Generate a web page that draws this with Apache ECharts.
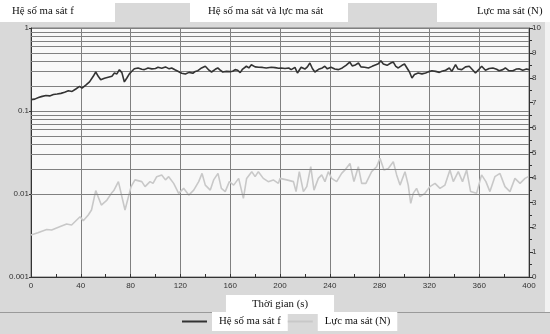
<!DOCTYPE html>
<html><head><meta charset="utf-8">
<script src="https://cdn.jsdelivr.net/npm/echarts@6/dist/echarts.min.js"></script>
<style>html,body{margin:0;padding:0;background:#fff}#c{width:550px;height:334px}</style>
</head><body><div id="c"></div>
<script>
const titleLeft = 'Hệ số ma sát f';
const titleCenter = 'Hệ số ma sát và lực ma sát';
const titleRight = 'Lực ma sát (N)';
const xAxisName = 'Thời gian (s)';
const seriesNames = ['Hệ số ma sát f', 'Lực ma sát (N)'];
const leftTickLabels = ['0.001', '0.01', '0.1', '1'];
const minorGrid = [0.2,0.3,0.4,0.5,0.6,0.7,0.8,0.9,0.02,0.03,0.04,0.05,0.06,0.07,0.08,0.09,0.002,0.003,0.004,0.005,0.006,0.007,0.008,0.009];

const timeF = [0,3,6,9,12,15,18,21,24,27,30,33,36,39,41,44,47,50,52,54,56,59,62,65,67,69,71,73,75,77,79,81,83,86,89,91,94,97,100,102,105,108,111,113,116,118,121,124,127,130,132,134,137,140,143,145,148,150,152,154,157,160,162,164,166,168,170,173,175,177,180,183,186,189,193,196,199,201,204,207,209,212,214,217,220,222,224,226,228,231,234,236,238,241,244,247,250,253,256,258,260,263,265,268,271,274,276,279,281,283,286,289,291,293,295,298,300,302,304,306,308,311,314,317,319,322,325,328,330,333,336,338,341,343,346,349,352,355,357,360,362,365,368,371,374,376,379,381,384,387,390,392,395,398,400];
const valuesF = [0.137,0.139,0.145,0.150,0.154,0.152,0.158,0.160,0.163,0.168,0.175,0.172,0.184,0.198,0.189,0.205,0.224,0.262,0.295,0.262,0.238,0.248,0.255,0.262,0.287,0.280,0.315,0.290,0.224,0.250,0.280,0.301,0.323,0.330,0.318,0.315,0.330,0.322,0.325,0.336,0.328,0.340,0.322,0.330,0.312,0.301,0.285,0.279,0.292,0.285,0.300,0.306,0.330,0.346,0.310,0.295,0.318,0.330,0.310,0.295,0.300,0.298,0.301,0.315,0.310,0.290,0.320,0.346,0.330,0.361,0.340,0.336,0.335,0.330,0.336,0.333,0.328,0.330,0.325,0.330,0.315,0.336,0.287,0.336,0.320,0.340,0.379,0.325,0.295,0.318,0.330,0.346,0.322,0.336,0.320,0.315,0.330,0.355,0.389,0.350,0.355,0.379,0.340,0.336,0.330,0.345,0.355,0.370,0.404,0.368,0.355,0.379,0.389,0.345,0.330,0.355,0.368,0.330,0.295,0.250,0.275,0.287,0.280,0.287,0.296,0.306,0.300,0.292,0.301,0.310,0.330,0.300,0.361,0.320,0.315,0.340,0.346,0.310,0.287,0.320,0.346,0.310,0.325,0.330,0.318,0.306,0.315,0.330,0.305,0.306,0.320,0.323,0.310,0.320,0.315];

const timeN = [0,5.5,12.6,16.6,22,28.6,32.6,39.4,42,46,48.6,52,56.5,61,64.6,66.5,70.2,75.5,80.4,83.5,89,91.6,95.6,98,101,105,108,110.6,114.6,118.6,122.6,126.7,130.7,134.7,137.4,140,144,146.7,150.2,152.9,156,159.3,162.8,166.8,170.6,173.2,177.3,180,182.6,186.6,190.6,194.6,198.7,200,205.4,210.8,212.9,215.5,218.8,221.5,224.7,227.3,230.8,233.5,236.1,238.8,241.5,245.5,249.5,252.2,256.2,259.4,262.9,265.6,269,273.6,277.6,280.3,283.5,287,291,293.7,296.4,300.4,303,305,307,309.7,312.4,316.4,320.4,324.5,328.5,332.5,336.5,339.2,343.2,346.6,349.9,353.1,357.9,361.9,365.4,368.6,372.6,376.7,380.7,384.7,388.7,392.8,396.8,399.5];
const valuesN = [1.69,1.78,1.91,1.89,2.0,2.13,2.09,2.42,2.26,2.49,2.69,3.47,2.89,3.09,3.36,3.47,3.83,2.69,3.63,3.9,3.83,3.63,3.83,3.76,4.03,4.1,3.9,4.03,3.76,3.36,3.56,3.29,3.49,3.83,4.16,3.69,3.49,3.9,4.16,3.56,3.43,3.83,3.69,3.96,3.16,3.96,4.23,4.03,4.23,3.96,3.83,3.9,3.76,3.96,3.9,3.83,3.43,4.23,3.43,3.63,4.43,3.49,3.96,4.1,3.83,4.23,3.96,3.83,4.16,4.3,4.56,3.83,4.43,3.76,3.76,4.23,4.43,4.77,4.3,4.36,4.63,4.1,3.69,4.23,3.69,2.96,3.36,3.56,3.23,3.36,3.63,3.76,3.56,3.69,4.3,3.83,4.23,3.83,4.3,3.43,3.36,4.1,3.83,3.43,4.03,4.16,3.63,3.43,3.96,3.76,3.96,4.03];

const dataF = timeF.map((t, i) => [t, valuesF[i]]);
const dataN = timeN.map((t, i) => [t, valuesN[i]]);

const serif = 'Liberation Serif';
const sans = 'Liberation Sans';
const titleFont = '10.8px "' + serif + '"';
const chart = echarts.init(document.getElementById('c'));
chart.setOption({
  animation: false,
  backgroundColor: '#d9d9d9',
  grid: { left: 31, right: 21, top: 28, bottom: 57, show: true, backgroundColor: '#f8f8f8', borderColor: '#777', borderWidth: 1 },
  graphic: [
    { type: 'rect', left: 0, top: 0, shape: { width: 550, height: 22 }, style: { fill: '#ffffff' }, z: -10 },
    { type: 'rect', left: 115, top: 3, shape: { width: 75, height: 19 }, style: { fill: '#d9d9d9' }, z: -9 },
    { type: 'rect', left: 348, top: 3, shape: { width: 89, height: 19 }, style: { fill: '#d9d9d9' }, z: -9 },
    { type: 'rect', left: 0, top: 312, shape: { width: 550, height: 1 }, style: { fill: '#9a9a9a' }, z: -9 },
    { type: 'rect', left: 545, top: 22, shape: { width: 5, height: 290 }, style: { fill: '#f2f2f2' }, z: -9 },
    { type: 'text', left: 12, top: 6, style: { text: titleLeft, font: titleFont, fill: '#111' } },
    { type: 'text', left: 208, top: 6, style: { text: titleCenter, font: titleFont, fill: '#111' } },
    { type: 'text', left: 477, top: 6, style: { text: titleRight, font: titleFont, fill: '#111' } }
  ],
  legend: {
    left: 182, top: 312, padding: 0, itemWidth: 25, itemHeight: 2, itemGap: 0, icon: 'rect',
    data: seriesNames,
    textStyle: { fontFamily: serif, fontSize: 10.8, color: '#111', backgroundColor: '#fff', padding: [4, 7, 4, 7] }
  },
  xAxis: {
    type: 'value', min: 0, max: 400, interval: 40,
    name: xAxisName, nameLocation: 'middle', nameGap: 16,
    nameTextStyle: { fontFamily: serif, fontSize: 10.8, color: '#111', backgroundColor: '#fff', padding: [4, 26, 4, 26] },
    axisLine: { lineStyle: { color: '#333' } },
    axisTick: { show: true, length: 3, inside: true, lineStyle: { color: '#333' } },
    minorTick: { show: true, splitNumber: 2, length: 3, lineStyle: { color: '#333' } },
    axisLabel: { fontFamily: sans, fontSize: 8, color: '#333', margin: 5 },
    splitLine: { show: true, lineStyle: { color: '#808080', width: 1 } }
  },
  yAxis: [
    {
      type: 'log', logBase: 10, min: 0.001, max: 1, position: 'left',
      axisLine: { show: true, lineStyle: { color: '#333' } },
      axisTick: { show: true, length: 2, lineStyle: { color: '#333' } },
      axisLabel: { margin: 2,
        formatter: function (v) { const i = Math.round(Math.log10(v)) + 3; return leftTickLabels[i] !== undefined ? '{r|' + leftTickLabels[i] + '}' : ''; },
        rich: { r: { fontFamily: sans, fontSize: 8, color: '#333', width: 28, align: 'right' } } },
      splitLine: { show: true, lineStyle: { color: '#808080', width: 1 } }
    },
    {
      type: 'value', min: 0, max: 10, interval: 1, position: 'right',
      axisLine: { show: true, lineStyle: { color: '#333' } },
      axisTick: { show: true, length: 4, lineStyle: { color: '#333' } },
      minorTick: { show: true, splitNumber: 2, length: 3, lineStyle: { color: '#333' } },
      axisLabel: { fontFamily: sans, fontSize: 8, color: '#333', margin: 3 },
      splitLine: { show: false }
    }
  ],
  series: [
    {
      name: seriesNames[0], type: 'line', yAxisIndex: 0, data: dataF, symbol: 'none',
      lineStyle: { color: '#333', width: 1.6 }, itemStyle: { color: '#333' }, z: 5,
      markLine: {
        silent: true, symbol: 'none', label: { show: false },
        lineStyle: { color: '#808080', width: 1, type: 'solid' },
        data: minorGrid.map(v => ({ yAxis: v }))
      }
    },
    {
      name: seriesNames[1], type: 'line', yAxisIndex: 1, data: dataN, symbol: 'none',
      lineStyle: { color: '#c8c8c8', width: 1.6 }, itemStyle: { color: '#c8c8c8' }, z: 4
    }
  ]
});
</script></body></html>
